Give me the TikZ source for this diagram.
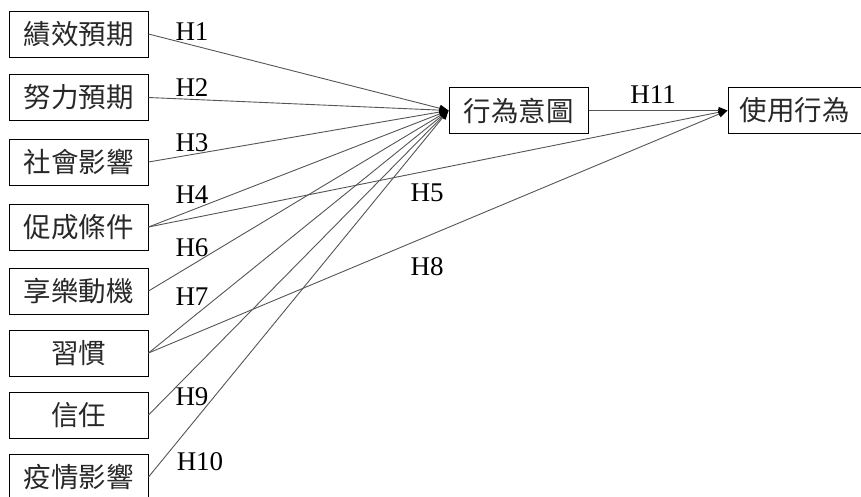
\documentclass[tikz,border=0pt]{standalone}
\usepackage{fontspec}
\setmainfont{Liberation Serif}
\newfontfamily\cjk{Noto Sans CJK TC}
\usetikzlibrary{arrows.meta}
\begin{document}
\begin{tikzpicture}[x=1pt,y=-1pt,
  box/.style={draw=black,line width=1pt,minimum width=139pt,minimum height=46pt,inner sep=0pt,font=\cjk\fontsize{27.5}{30}\selectfont,text={rgb,255:red,40;green,40;blue,40}},
  link/.style={draw={rgb,255:red,85;green,85;blue,85},line width=0.9pt,-{Triangle[length=9pt,width=7pt,black]}},
  hl/.style={font=\fontsize{27}{30}\selectfont,inner sep=0pt}]
\useasboundingbox (0,0) rectangle (861,496);
\node[box] (b1) at (78.5,34) {績效預期};
\node[box] (b2) at (78.5,97.5) {努力預期};
\node[box] (b3) at (78.5,162) {社會影響};
\node[box] (b4) at (78.5,227) {促成條件};
\node[box] (b5) at (78.5,291) {享樂動機};
\node[box] (b6) at (78.5,353) {習慣};
\node[box] (b7) at (78.5,415) {信任};
\node[box] (b8) at (78.5,477) {疫情影響};
\node[box] (mid) at (518.5,110.5) {行為意圖};
\node[box,minimum width=133pt] (use) at (794.5,110.5) {使用行為};
\foreach \i in {1,...,8} {\draw[link] (b\i.east) -- (mid.west);}
\draw[link] (b4.east) -- (use.west);
\draw[link] (b6.east) -- (use.west);
\draw[link] (mid.east) -- (use.west);
\node[hl] (h1) at (192,32) {H1};
\node[hl] (h2) at (192,88) {H2};
\node[hl] (h3) at (192,143) {H3};
\node[hl] (h4) at (192,195) {H4};
\node[hl] (h5) at (427,193) {H5};
\node[hl] (h6) at (192,248) {H6};
\node[hl] (h7) at (192,297) {H7};
\node[hl] (h8) at (427,267) {H8};
\node[hl] (h9) at (192,397) {H9};
\node[hl] (h10) at (200,462) {H10};
\node[hl] (h11) at (653,95) {H11};
\end{tikzpicture}
\end{document}
